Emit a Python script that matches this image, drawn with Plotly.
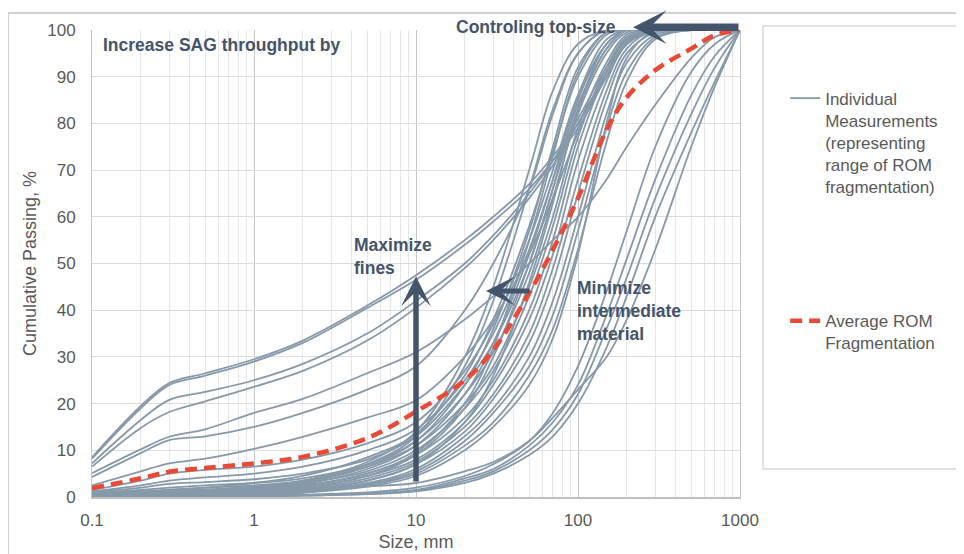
import plotly.graph_objects as go

# ---------------- data ----------------
size_mm = [0.1, 0.2, 0.3, 0.5, 1, 2, 5, 10, 20, 30, 50, 70, 100, 150, 200, 300, 500, 700, 1000]
tick_vals = [0.1, 1, 10, 100, 1000]
tick_text = ["0.1", "1", "10", "100", "1000"]

# individual measurements (cumulative % passing at size_mm)
a1 = [8.5, 19.5, 24.4, 26.5, 29.5, 33.5, 41, 47.5, 55, 60, 67, 73, 80, 90, 97, 100, 100, 100, 100]
a2 = [8.2, 19, 24, 26, 29, 33, 40.5, 46.5, 54, 59, 66, 72, 79, 90, 97.5, 100, 100, 100, 100]
a3 = [7.2, 16.5, 20.8, 22.5, 25, 28.5, 35, 42, 50, 56, 65, 72, 81, 92, 98, 100, 100, 100, 100]
a4 = [6.5, 14.8, 18.2, 20.5, 23.6, 27, 33.5, 40.5, 49, 55, 64, 71, 80, 91, 98, 100, 100, 100, 100]
b1 = [5.1, 10.2, 12.9, 14.5, 18, 21, 26.5, 31, 38, 43, 50, 55, 60, 68, 75, 84, 94, 98.5, 100]
b2 = [4.3, 9.4, 12.2, 13, 15, 18, 23, 28, 40, 50, 66, 82, 95, 100, 100, 100, 100, 100, 100]
c1 = [2.5, 5.5, 7.2, 8.2, 10.3, 12.9, 17, 20.7, 30, 38, 52, 64, 78, 91, 97, 100, 100, 100, 100]
k01 = [1.5, 3.5, 5, 5.8, 6.5, 8, 11.5, 16, 27, 37, 55, 70, 86, 97, 100, 100, 100, 100, 100]
k02 = [1.2, 2.5, 3.5, 4.2, 5, 6.5, 10, 14.5, 25, 35, 53, 68, 84, 96, 100, 100, 100, 100, 100]
k03 = [1, 2, 2.8, 3.2, 3.8, 5, 8, 13, 24, 33, 50, 66, 83, 96, 100, 100, 100, 100, 100]
k04 = [0.8, 1.5, 2, 2.5, 3, 4, 7, 12, 22, 31, 48, 64, 82, 95, 99.5, 100, 100, 100, 100]
k05 = [0.6, 1.2, 1.6, 2, 2.5, 3.5, 6.5, 11, 20, 28, 45, 60, 79, 93, 99, 100, 100, 100, 100]
k06 = [0.5, 1, 1.3, 1.6, 2, 3, 5.5, 10, 19, 27, 43, 58, 77, 92, 98.5, 100, 100, 100, 100]
k07 = [0.4, 0.8, 1, 1.3, 1.7, 2.5, 5, 9, 17, 25, 40, 55, 75, 91, 98, 100, 100, 100, 100]
k08 = [0.3, 0.6, 0.8, 1, 1.4, 2, 4.5, 8, 16, 24, 38, 52, 72, 89, 97, 100, 100, 100, 100]
k09 = [0.3, 0.5, 0.7, 0.9, 1.2, 1.8, 4, 7.5, 15, 22, 35, 49, 68, 87, 96, 100, 100, 100, 100]
k10 = [0.2, 0.4, 0.5, 0.7, 1, 1.5, 3.5, 7, 14, 21, 33, 46, 65, 85, 95, 99.5, 100, 100, 100]
k11 = [0.2, 0.3, 0.4, 0.6, 0.8, 1.3, 3, 6, 13, 19, 30, 42, 60, 82, 93, 99, 100, 100, 100]
k12 = [0.1, 0.3, 0.4, 0.5, 0.7, 1.1, 2.7, 5.5, 12, 18, 28, 39, 57, 79, 91, 98.5, 100, 100, 100]
k13 = [0.1, 0.2, 0.3, 0.4, 0.6, 1, 2.5, 5, 11, 16, 26, 36, 53, 76, 89, 98, 100, 100, 100]
k14 = [0.1, 0.2, 0.2, 0.3, 0.5, 0.9, 2.2, 4.5, 10, 15, 24, 34, 52, 80, 94, 100, 100, 100, 100]
k15 = [0.5, 1, 1.5, 2, 3, 4.5, 8.5, 13.5, 26, 38, 58, 74, 90, 99, 100, 100, 100, 100, 100]
k16 = [0.2, 0.5, 0.8, 1.1, 1.6, 2.7, 6, 11, 22, 33, 52, 68, 86, 98, 100, 100, 100, 100, 100]
k17 = [0.1, 0.3, 0.5, 0.8, 1.2, 2, 4.5, 9, 19, 30, 50, 66, 85, 97, 100, 100, 100, 100, 100]
k18 = [0.3, 0.6, 0.9, 1.2, 1.8, 3, 6.5, 12, 24, 36, 57, 75, 92, 99.5, 100, 100, 100, 100, 100]
k19 = [0.1, 0.2, 0.3, 0.5, 0.8, 1.5, 3.5, 7, 16, 26, 46, 63, 83, 97, 100, 100, 100, 100, 100]
k20 = [0.2, 0.4, 0.6, 0.9, 1.4, 2.3, 5, 9.5, 20, 32, 55, 73, 91, 99.5, 100, 100, 100, 100, 100]
k21 = [0.4, 0.8, 1.2, 1.6, 2.2, 3.5, 7.5, 14, 30, 45, 70, 87, 97, 100, 100, 100, 100, 100, 100]
k22 = [0.3, 0.7, 1, 1.4, 2, 3.2, 7, 13, 28, 42, 66, 83, 95, 100, 100, 100, 100, 100, 100]
r1 = [0, 0.1, 0.1, 0.2, 0.3, 0.5, 1, 2, 4.5, 7, 12, 18, 28, 44, 57, 75, 91, 97, 100]
r2 = [0, 0, 0.1, 0.1, 0.2, 0.4, 0.8, 1.5, 4, 6, 11, 16, 24, 39, 51, 68, 86, 94.5, 100]
r3 = [0, 0, 0.1, 0.1, 0.2, 0.3, 0.7, 1.3, 3.5, 5.5, 10, 14.5, 22, 36, 47, 64, 82, 92, 100]
r4 = [0, 0, 0, 0.1, 0.1, 0.3, 0.6, 1.2, 3, 5, 9, 13, 20, 32, 43, 60, 78, 89, 100]
r5 = [0.3, 0.4, 0.5, 0.6, 0.8, 1.5, 2.3, 3, 5.5, 7.5, 12, 17, 23, 30, 38, 53, 75, 88, 100]

individual = [a1, a2, a3, a4, b1, b2, c1, k01, k02, k03, k04, k05, k06, k07, k08, k09, k10,
              k11, k12, k13, k14, k15, k16, k17, k18, k19, k20, k21, k22, r1, r2, r3, r4, r5]

average = [1.9, 4, 5.4, 6.2, 7.2, 8.6, 12.6, 18.3, 25, 31.5, 43.7, 53, 64, 78.6, 85.6, 91.4, 96, 98.9, 100]

# ---------------- styling ----------------
FONT = "Liberation Sans, Arial, sans-serif"
GREY_TXT = "#595959"
DARK = "#44546A"
LINE_C = "#8699aa"
RED = "#EA4A35"

fig = go.Figure()
for i, vals in enumerate(individual):
    fig.add_trace(go.Scatter(
        x=size_mm, y=vals, mode="lines",
        line=dict(color=LINE_C, width=1.8, shape="spline", smoothing=1.0),
        name="Individual<br>Measurements<br>(representing<br>range of ROM<br>fragmentation)",
        legendgroup="ind", showlegend=(i == 0), hoverinfo="skip"))

fig.add_trace(go.Scatter(
    x=size_mm, y=average, mode="lines",
    line=dict(color=RED, width=4.5, dash="12px,7px", shape="spline", smoothing=1.0),
    name="Average ROM<br>Fragmentation", legendgroup="avg", hoverinfo="skip"))

ann_font = dict(family=FONT, size=17.5, color=DARK)
annotations = [
    dict(x=-0.944, y=96.8, xref="x", yref="y", text="<b>Increase SAG throughput by</b>",
         showarrow=False, xanchor="left", yanchor="middle", font=ann_font),
    dict(x=2.247, y=1.006, xref="x", yref="paper", text="<b>Controling top-size</b>",
         showarrow=False, xanchor="right", yanchor="middle", font=ann_font),
    dict(x=0.605, y=51.6, xref="x", yref="y", text="<b>Maximize<br>fines</b>",
         showarrow=False, xanchor="left", yanchor="middle", align="left", font=ann_font),
    dict(x=1.981, y=39.8, xref="x", yref="y", text="<b>Minimize<br>intermediate<br>material</b>",
         showarrow=False, xanchor="left", yanchor="middle", align="left", font=ann_font),
    # arrows
    dict(x=2.34, y=1.006, xref="x", yref="paper", ax=3.0, ay=0, axref="x", ayref="pixel",
         text="", showarrow=True, arrowhead=3, arrowsize=0.75, arrowwidth=7.5, arrowcolor=DARK,
         standoff=0, startstandoff=0),
    dict(x=1.0, y=47.2, xref="x", yref="y", ax=1.0, ay=3.0, axref="x", ayref="y",
         text="", showarrow=True, arrowhead=3, arrowsize=0.9, arrowwidth=5.5, arrowcolor=DARK,
         standoff=0, startstandoff=0),
    dict(x=1.432, y=44.1, xref="x", yref="y", ax=1.71, ay=44.1, axref="x", ayref="y",
         text="", showarrow=True, arrowhead=3, arrowsize=0.95, arrowwidth=5, arrowcolor=DARK,
         standoff=0, startstandoff=0),
]

shapes = [
    # outer chart border
    dict(type="rect", xref="paper", yref="paper", x0=-0.1296, y0=-0.3, x1=1.6, y1=1.0364,
         line=dict(color="#d0d0d0", width=2), layer="below"),
    # legend box
    dict(type="rect", xref="paper", yref="paper", x0=1.0355, y0=0.06, x1=1.3426, y1=1.0086,
         line=dict(color="#d9d9d9", width=1.5), layer="below"),
]

fig.update_layout(
    width=964, height=554,
    margin=dict(l=84, r=232, t=22, b=65),
    paper_bgcolor="white", plot_bgcolor="white",
    font=dict(family=FONT, color=GREY_TXT, size=17),
    showlegend=True,
    legend=dict(x=1.0697, y=0.8915, xanchor="left", yanchor="top", bgcolor="rgba(0,0,0,0)",
                borderwidth=0, font=dict(family=FONT, size=17, color=GREY_TXT),
                tracegroupgap=109, valign="top", itemwidth=30),
    annotations=annotations, shapes=shapes,
)

fig.update_xaxes(
    type="log", range=[-1, 3], tickvals=tick_vals, ticktext=tick_text,
    showgrid=True, gridcolor="#c6c6c6", gridwidth=1,
    minor=dict(dtick="D1", showgrid=True, gridcolor="#e6e6e6", gridwidth=1),
    showline=True, linecolor="#bfbfbf", linewidth=1.5, mirror=False,
    ticks="", ticklabelstandoff=7, zeroline=False,
    tickfont=dict(family=FONT, size=17, color=GREY_TXT),
    title=dict(text="Size, mm", font=dict(family=FONT, size=18, color=GREY_TXT), standoff=6),
    automargin=False,
)
fig.update_yaxes(
    range=[0, 100], dtick=10, showgrid=True, gridcolor="#dcdcdc", gridwidth=1.2,
    showline=True, linecolor="#c6c6c6", linewidth=1, mirror=True,
    ticks="", ticklabelstandoff=12, zeroline=False,
    tickfont=dict(family=FONT, size=17, color=GREY_TXT),
    title=dict(text="Cumulative Passing, %", font=dict(family=FONT, size=18, color=GREY_TXT), standoff=5),
    automargin=False,
)

fig.write_html("out.html")
